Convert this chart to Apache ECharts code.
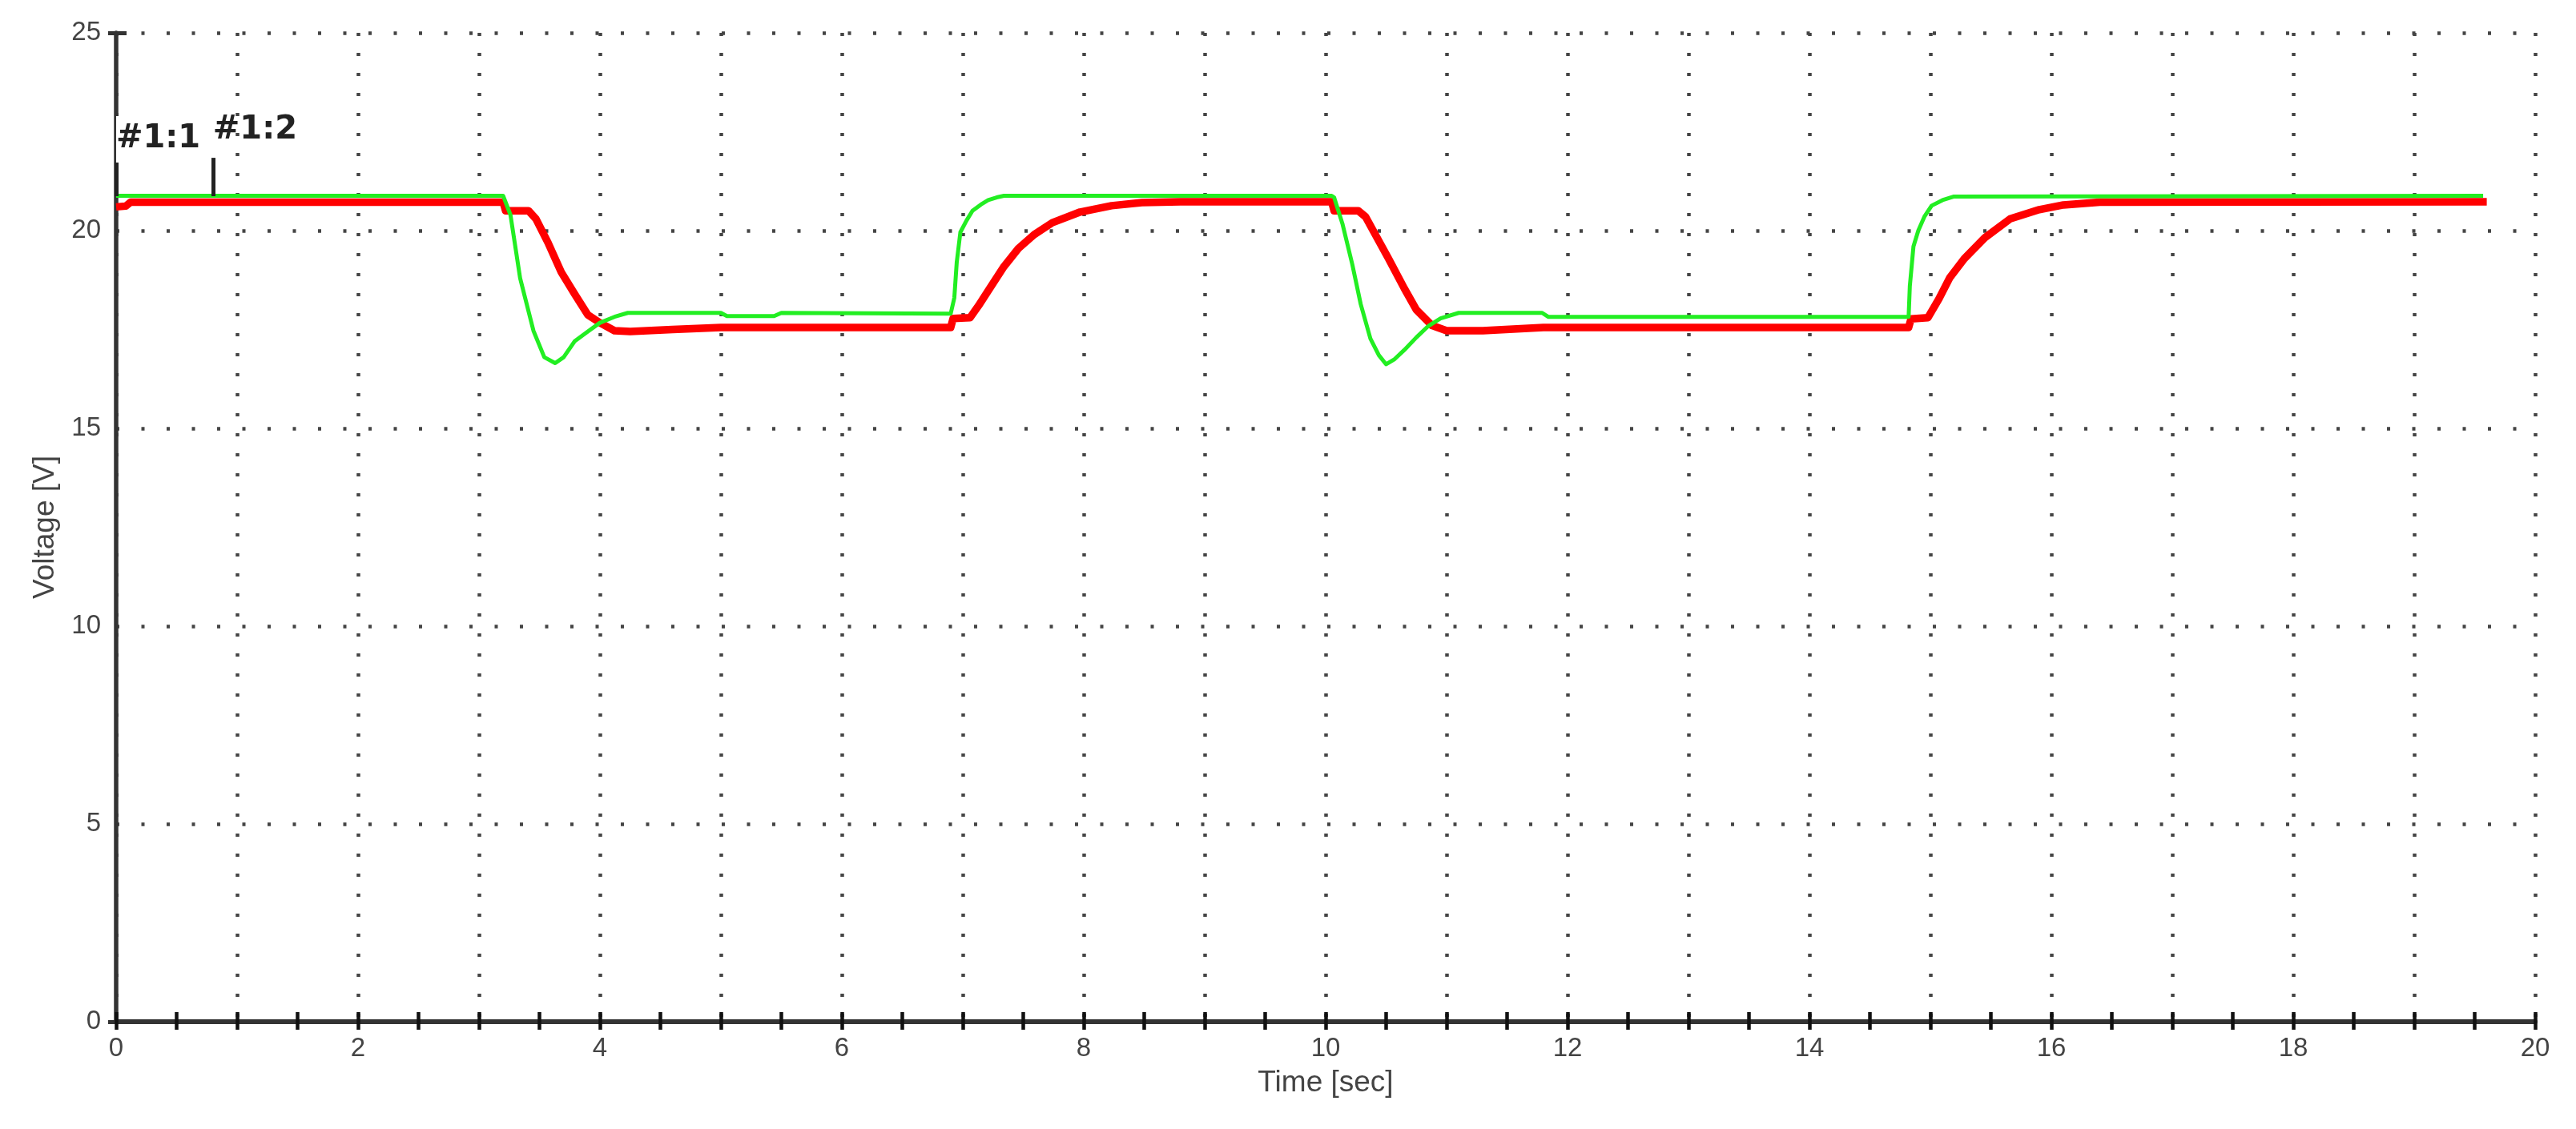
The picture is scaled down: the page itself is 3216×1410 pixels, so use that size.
<!DOCTYPE html>
<html>
<head>
<meta charset="utf-8">
<script src="https://cdn.jsdelivr.net/npm/echarts@6/dist/echarts.min.js"></script>
<style>
html,body{margin:0;padding:0;background:#fff;}
#chart{width:3216px;height:1410px;}
</style>
</head>
<body>
<div id="chart"></div>
<script>
// ---- data ----
const xTickLabels = [0, 2, 4, 6, 8, 10, 12, 14, 16, 18, 20];
const yTickLabels = [0, 5, 10, 15, 20, 25];

const greenTime = [0, 3.2, 3.26, 3.34, 3.45, 3.54, 3.63, 3.7, 3.79, 3.9, 4.0, 4.12, 4.23, 5.0, 5.05, 5.44, 5.5, 6.9, 6.93, 6.95, 6.98, 7.03, 7.08, 7.15, 7.21, 7.28, 7.34, 10.05, 10.07, 10.14, 10.22, 10.29, 10.37, 10.44, 10.5, 10.57, 10.65, 10.75, 10.85, 10.95, 11.1, 11.79, 11.84, 14.82, 14.83, 14.86, 14.9, 14.95, 15.01, 15.1, 15.19, 19.57];
const greenVolt = [20.88, 20.88, 20.4, 18.8, 17.47, 16.8, 16.65, 16.8, 17.2, 17.45, 17.67, 17.82, 17.92, 17.92, 17.84, 17.84, 17.92, 17.9, 18.3, 19.2, 19.96, 20.25, 20.5, 20.66, 20.77, 20.84, 20.88, 20.88, 20.84, 20.16, 19.15, 18.14, 17.27, 16.85, 16.62, 16.75, 16.98, 17.3, 17.59, 17.78, 17.92, 17.92, 17.82, 17.82, 18.6, 19.6, 20.0, 20.35, 20.63, 20.77, 20.86, 20.88];

const redTime = [0, 0.08, 0.12, 3.2, 3.22, 3.41, 3.47, 3.57, 3.68, 3.79, 3.9, 4.0, 4.12, 4.25, 4.6, 5.0, 6.9, 6.92, 7.06, 7.13, 7.21, 7.34, 7.46, 7.59, 7.74, 7.97, 8.23, 8.48, 8.8, 10.05, 10.07, 10.27, 10.33, 10.4, 10.52, 10.65, 10.75, 10.88, 11.0, 11.3, 11.8, 14.82, 14.84, 14.98, 15.07, 15.16, 15.28, 15.45, 15.66, 15.9, 16.1, 16.4, 19.6];
const redVolt = [20.6, 20.62, 20.72, 20.72, 20.5, 20.5, 20.3, 19.7, 18.95, 18.4, 17.87, 17.67, 17.47, 17.45, 17.5, 17.55, 17.55, 17.78, 17.8, 18.1, 18.48, 19.09, 19.55, 19.9, 20.2, 20.47, 20.63, 20.71, 20.73, 20.73, 20.5, 20.5, 20.35, 19.96, 19.29, 18.54, 18.0, 17.6, 17.47, 17.47, 17.55, 17.55, 17.77, 17.8, 18.27, 18.81, 19.29, 19.82, 20.3, 20.53, 20.65, 20.72, 20.73];

const cursorNames = ['#1:1', '#1:2'];
const cursorTimes = [0, 0.8];
const cursorLow = [20.87, 20.87];
const cursorHigh = [21.72, 21.84];

// ---- build ----
const zip = (a, b) => a.map((t, i) => [t, b[i]]);
const fontFam = '"Liberation Sans", Arial, sans-serif';
const labelColor = '#444';

const chart = echarts.init(document.getElementById('chart'), null, {renderer: 'canvas'});

const cursorLines = cursorNames.map((n, i) => [
  {
    coord: [cursorTimes[i], cursorLow[i]],
    label: i === 0 ? {
      show: true, position: 'end', formatter: n, align: 'left', distance: 0,
      backgroundColor: '#fff', padding: [9, 4, 9, 0],
      fontFamily: '"DejaVu Sans", sans-serif', fontWeight: 'bold', fontSize: 40, color: '#222'
    } : {
      show: true, position: 'end', formatter: n, align: 'left', distance: 14,
      padding: [0, 0, 0, 0],
      fontFamily: '"DejaVu Sans", sans-serif', fontWeight: 'bold', fontSize: 40, color: '#222'
    }
  },
  { coord: [cursorTimes[i], cursorHigh[i]] }
]);

const xBase = {type: 'value', min: 0, max: 20, gridIndex: 0};

chart.setOption({
  animation: false,
  backgroundColor: '#fff',
  grid: {left: 145, right: 51, top: 41, bottom: 134, containLabel: false},
  xAxis: [
    Object.assign({}, xBase, {
      interval: 0.5,
      position: 'bottom',
      name: 'Time [sec]', nameLocation: 'middle', nameGap: 58,
      nameTextStyle: {fontFamily: fontFam, fontSize: 37, color: labelColor},
      axisLine: {show: true, onZero: false, lineStyle: {color: '#333', width: 6}},
      axisTick: {show: true, inside: false, length: 10, lineStyle: {color: '#111', width: 4.5}},
      axisLabel: {
        show: true, margin: 17, fontFamily: fontFam, fontSize: 33, color: labelColor,
        formatter: v => (xTickLabels.indexOf(v) >= 0 ? String(v) : '')
      },
      splitLine: {show: false}
    }),
    Object.assign({}, xBase, {
      interval: 0.5, position: 'bottom',
      axisLine: {show: false, onZero: false},
      axisTick: {show: true, inside: true, length: 12, lineStyle: {color: '#111', width: 4.5}},
      axisLabel: {show: false},
      splitLine: {show: false}
    }),
    Object.assign({}, xBase, {
      interval: 1, position: 'bottom',
      axisLine: {show: false, onZero: false},
      axisTick: {show: false},
      axisLabel: {show: false},
      splitLine: {show: true, lineStyle: {color: '#444', width: 4.5, type: [4, 21]}}
    })
  ],
  yAxis: [
    {
      type: 'value', min: 0, max: 25, interval: 5, position: 'left',
      name: 'Voltage [V]', nameLocation: 'middle', nameGap: 70,
      nameTextStyle: {fontFamily: fontFam, fontSize: 37, color: labelColor},
      axisLine: {show: true, onZero: false, lineStyle: {color: '#333', width: 5.5}},
      axisTick: {show: false},
      axisLabel: {
        show: true, margin: 19, fontFamily: fontFam, fontSize: 33, color: labelColor,
        formatter: v => (yTickLabels.indexOf(v) >= 0 ? String(v) : '')
      },
      splitLine: {show: true, lineStyle: {color: '#444', width: 4.5, type: [4, 27.5]}}
    },
    {
      type: 'value', min: 0, max: 25, interval: 25, position: 'left',
      axisLine: {show: false, onZero: false},
      axisTick: {show: true, inside: false, length: 10, lineStyle: {color: '#333', width: 5}},
      axisLabel: {show: false},
      splitLine: {show: false}
    },
    {
      type: 'value', min: 0, max: 25, interval: 25, position: 'left',
      axisLine: {show: false, onZero: false},
      axisTick: {show: true, inside: true, length: 13, lineStyle: {color: '#333', width: 5}},
      axisLabel: {show: false},
      splitLine: {show: false}
    }
  ],
  series: [
    {
      name: 'Red', type: 'line', xAxisIndex: 0, yAxisIndex: 0,
      data: zip(redTime, redVolt),
      showSymbol: false, symbol: 'none', z: 3,
      lineStyle: {color: '#ff0000', width: 9.5, join: 'round'},
      markLine: {
        silent: true, symbol: ['none', 'none'], animation: false,
        lineStyle: {color: '#222', width: 5, type: 'solid'},
        data: cursorLines
      }
    },
    {
      name: 'Green', type: 'line', xAxisIndex: 0, yAxisIndex: 0,
      data: zip(greenTime, greenVolt),
      showSymbol: false, symbol: 'none', z: 4,
      lineStyle: {color: '#22ee22', width: 5, join: 'round'}
    }
  ]
});
</script>
</body>
</html>
